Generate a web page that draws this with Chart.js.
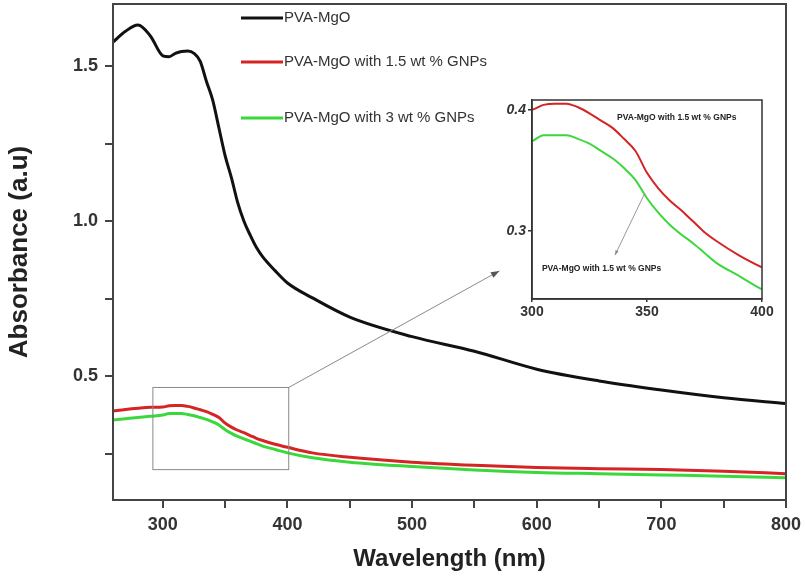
<!DOCTYPE html>
<html>
<head>
<meta charset="utf-8">
<script src="https://cdn.jsdelivr.net/npm/chart.js@4.4.0/dist/chart.umd.min.js"></script>
<style>
  html, body { margin: 0; padding: 0; background: #fff; }
  #wrap { position: relative; width: 805px; height: 578px; }
  #main { position: absolute; left: 0; top: 0; }
  #inset { position: absolute; left: 490px; top: 92px; }
</style>
</head>
<body>
<div id="wrap">
  <canvas id="main" width="805" height="578"></canvas>
  <canvas id="inset" width="290" height="232"></canvas>
</div>
<script>
// wavelength (nm) and absorbance
const wavelength = [260, 270, 280, 290, 300, 305, 310, 315, 320, 325, 330, 335, 340, 345, 350, 355, 360, 365, 370, 375, 380, 390, 400, 420, 450, 500, 550, 600, 650, 700, 750, 800];
const pvaMgO = [1.577, 1.612, 1.632, 1.597, 1.533, 1.530, 1.541, 1.547, 1.548, 1.541, 1.515, 1.45, 1.39, 1.30, 1.21, 1.14, 1.06, 1.00, 0.955, 0.915, 0.885, 0.84, 0.80, 0.752, 0.69, 0.627, 0.58, 0.522, 0.484, 0.455, 0.43, 0.411];
const gnp15 = [0.387, 0.392, 0.396, 0.399, 0.400, 0.404, 0.405, 0.405, 0.402, 0.397, 0.391, 0.385, 0.376, 0.366, 0.348, 0.335, 0.325, 0.317, 0.308, 0.299, 0.292, 0.280, 0.270, 0.252, 0.238, 0.222, 0.212, 0.205, 0.201, 0.198, 0.193, 0.185];
const gnp3 = [0.358, 0.362, 0.366, 0.370, 0.374, 0.379, 0.379, 0.379, 0.376, 0.372, 0.366, 0.360, 0.352, 0.342, 0.327, 0.315, 0.305, 0.297, 0.290, 0.282, 0.274, 0.263, 0.252, 0.236, 0.222, 0.208, 0.197, 0.189, 0.185, 0.181, 0.177, 0.172];

const seriesNames = ['PVA-MgO', 'PVA-MgO with 1.5 wt % GNPs', 'PVA-MgO with 3 wt % GNPs'];
const seriesColors = ['#111111', '#d42424', '#3ad83a'];

const xTicks = [300, 350, 400, 450, 500, 550, 600, 650, 700, 750, 800];
const xLabels = [300, 400, 500, 600, 700, 800];
const yTicks = [0.25, 0.5, 0.75, 1.0, 1.25, 1.5];
const yLabels = [0.5, 1.0, 1.5];

const insetXTicks = [300, 350, 400];
const insetYTicks = [0.3, 0.4];

// zoom box and arrow (data units)
const zoomBox = { x0: 292, x1: 401, y0: 0.198, y1: 0.463 };
const arrowTip = { x: 570, y: 0.839 };

const FONT = '"Liberation Sans", Arial, sans-serif';

function pts(arr) {
  return wavelength.map((w, i) => ({ x: w, y: arr[i] }));
}

function makeDatasets(width) {
  return [pvaMgO, gnp15, gnp3].map((arr, i) => ({
    label: seriesNames[i],
    data: pts(arr),
    borderColor: seriesColors[i],
    borderWidth: width,
    pointRadius: 0,
    cubicInterpolationMode: 'monotone',
    fill: false
  }));
}

function isIn(v, list) {
  return list.some(t => Math.abs(t - v) < 1e-6);
}

// no extra room for half tick labels at the ends
function noEdgePad(s) {
  s.paddingTop = 0;
  s.paddingBottom = 0;
  s.paddingLeft = 0;
  s.paddingRight = 0;
}

function arrowLine(ctx, x0, y0, x1, y1, head) {
  ctx.beginPath();
  ctx.moveTo(x0, y0);
  ctx.lineTo(x1, y1);
  ctx.stroke();
  const a = Math.atan2(y1 - y0, x1 - x0);
  ctx.beginPath();
  ctx.moveTo(x1, y1);
  ctx.lineTo(x1 - head * Math.cos(a - 0.35), y1 - head * Math.sin(a - 0.35));
  ctx.lineTo(x1 - head * Math.cos(a + 0.35), y1 - head * Math.sin(a + 0.35));
  ctx.closePath();
  ctx.fill();
}

// frame, legend, zoom box for the main chart
const mainDecor = {
  id: 'mainDecor',
  afterDatasetsDraw(chart) {
    const ctx = chart.ctx;
    const a = chart.chartArea;
    const xs = chart.scales.x, ys = chart.scales.y;
    ctx.save();
    ctx.strokeStyle = '#444';
    ctx.lineWidth = 2;
    ctx.strokeRect(a.left, a.top, a.right - a.left, a.bottom - a.top);

    // zoom rectangle + arrow
    const bx0 = xs.getPixelForValue(zoomBox.x0), bx1 = xs.getPixelForValue(zoomBox.x1);
    const by0 = ys.getPixelForValue(zoomBox.y0), by1 = ys.getPixelForValue(zoomBox.y1);
    ctx.strokeStyle = '#8a8a8a';
    ctx.fillStyle = '#555';
    ctx.lineWidth = 1;
    ctx.strokeRect(bx0, by1, bx1 - bx0, by0 - by1);
    arrowLine(ctx, bx1, by1, xs.getPixelForValue(arrowTip.x), ys.getPixelForValue(arrowTip.y), 9);

    // legend
    const rows = [14, 58, 114];
    ctx.font = '15px ' + FONT;
    ctx.textBaseline = 'middle';
    chart.data.datasets.forEach((ds, i) => {
      const y = a.top + rows[i];
      ctx.strokeStyle = ds.borderColor;
      ctx.lineWidth = 3;
      ctx.beginPath();
      ctx.moveTo(a.left + 128, y);
      ctx.lineTo(a.left + 170, y);
      ctx.stroke();
      ctx.fillStyle = '#333';
      ctx.fillText(ds.label, a.left + 171, y);
    });
    ctx.restore();
  }
};

new Chart(document.getElementById('main'), {
  type: 'line',
  data: { datasets: makeDatasets(3) },
  options: {
    responsive: false,
    animation: false,
    devicePixelRatio: 1,
    layout: { padding: { top: 4, right: 19, left: 0, bottom: 0 } },
    plugins: { legend: { display: false }, tooltip: { enabled: false } },
    scales: {
      x: {
        type: 'linear',
        min: 260,
        max: 800,
        afterBuildTicks: s => { s.ticks = xTicks.map(v => ({ value: v })); },
        afterFit: s => { s.height = 78; noEdgePad(s); },
        ticks: {
          autoSkip: false,
          maxRotation: 0,
          padding: 6,
          color: '#333',
          font: { family: FONT, size: 18, weight: 'bold' },
          callback: v => isIn(v, xLabels) ? String(v) : ''
        },
        grid: { drawOnChartArea: false, tickLength: 8, color: '#444', lineWidth: 2 },
        border: { color: '#444', width: 2 },
        title: {
          display: true,
          text: 'Wavelength (nm)',
          color: '#222',
          padding: { top: 4, bottom: 4 },
          font: { family: FONT, size: 24, weight: 'bold' }
        }
      },
      y: {
        min: 0.1,
        max: 1.7,
        afterBuildTicks: s => { s.ticks = yTicks.map(v => ({ value: v })); },
        afterFit: s => { s.width = 113; noEdgePad(s); },
        ticks: {
          padding: 7,
          color: '#333',
          font: { family: FONT, size: 18, weight: 'bold' },
          callback: v => isIn(v, yLabels) ? v.toFixed(1) : ''
        },
        grid: { drawOnChartArea: false, tickLength: 8, color: '#444', lineWidth: 2 },
        border: { color: '#444', width: 2 },
        title: {
          display: true,
          text: 'Absorbance (a.u)',
          color: '#222',
          padding: { top: 4, bottom: 4 },
          font: { family: FONT, size: 26, weight: 'bold' }
        }
      }
    }
  },
  plugins: [mainDecor]
});

// inset notes (data units of the inset)
const insetNoteTop = { x: 337, y: 0.3934, text: 'PVA-MgO with 1.5 wt % GNPs' };
const insetNoteBottom = { x: 304.3, y: 0.2694, text: 'PVA-MgO with 1.5 wt % GNPs' };
const insetArrow = { x0: 349.1, y0: 0.3314, x1: 336.1, y1: 0.2802 };

const insetDecor = {
  id: 'insetDecor',
  beforeDraw(chart) {
    const ctx = chart.ctx;
    const a = chart.chartArea;
    ctx.save();
    ctx.fillStyle = '#fff';
    ctx.fillRect(a.left, a.top, a.right - a.left, a.bottom - a.top);
    ctx.restore();
  },
  afterDatasetsDraw(chart) {
    const ctx = chart.ctx;
    const a = chart.chartArea;
    const xs = chart.scales.x, ys = chart.scales.y;
    ctx.save();
    ctx.strokeStyle = '#333';
    ctx.lineWidth = 1.5;
    ctx.strokeRect(a.left, a.top, a.right - a.left, a.bottom - a.top);

    ctx.fillStyle = '#222';
    ctx.font = 'bold 8.5px ' + FONT;
    ctx.textBaseline = 'middle';
    [insetNoteTop, insetNoteBottom].forEach(n => {
      ctx.fillText(n.text, xs.getPixelForValue(n.x), ys.getPixelForValue(n.y));
    });

    ctx.strokeStyle = '#999';
    ctx.fillStyle = '#888';
    ctx.lineWidth = 1;
    arrowLine(ctx, xs.getPixelForValue(insetArrow.x0), ys.getPixelForValue(insetArrow.y0),
      xs.getPixelForValue(insetArrow.x1), ys.getPixelForValue(insetArrow.y1), 5);
    ctx.restore();
  }
};

new Chart(document.getElementById('inset'), {
  type: 'line',
  data: { datasets: makeDatasets(2).slice(1) },
  options: {
    responsive: false,
    animation: false,
    devicePixelRatio: 1,
    layout: { padding: { top: 8, right: 18, left: 0, bottom: 0 } },
    plugins: { legend: { display: false }, tooltip: { enabled: false } },
    scales: {
      x: {
        type: 'linear',
        min: 300,
        max: 400,
        afterBuildTicks: s => { s.ticks = insetXTicks.map(v => ({ value: v })); },
        afterFit: s => { s.height = 25; noEdgePad(s); },
        ticks: {
          autoSkip: false,
          maxRotation: 0,
          padding: 2,
          color: '#333',
          font: { family: FONT, size: 14, weight: 'bold' }
        },
        grid: { drawOnChartArea: false, tickLength: 3, color: '#333', lineWidth: 1.5 },
        border: { color: '#333', width: 1.5 }
      },
      y: {
        min: 0.244,
        max: 0.408,
        afterBuildTicks: s => { s.ticks = insetYTicks.map(v => ({ value: v })); },
        afterFit: s => { s.width = 42; noEdgePad(s); },
        ticks: {
          padding: 2,
          color: '#333',
          font: { family: FONT, size: 14, weight: 'bold', style: 'italic' },
          callback: v => v.toFixed(1)
        },
        grid: { drawOnChartArea: false, tickLength: 4, color: '#333', lineWidth: 1.5 },
        border: { color: '#333', width: 1.5 }
      }
    }
  },
  plugins: [insetDecor]
});
</script>
</body>
</html>
